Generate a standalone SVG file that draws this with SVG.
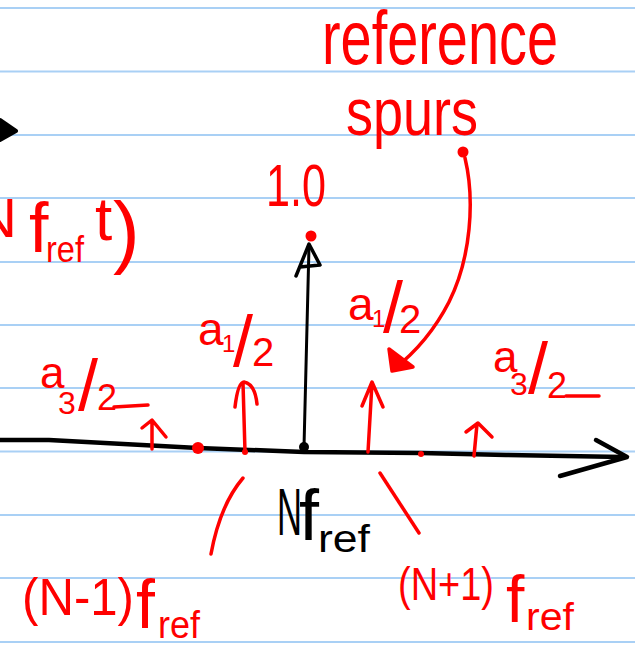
<svg xmlns="http://www.w3.org/2000/svg" width="635" height="654" viewBox="0 0 635 654">
<style>
.rule{stroke:#a9d0f5;stroke-width:2}
.r{fill:#f00;font-family:"Liberation Sans",Arial,sans-serif}
.k{fill:#000;font-family:"Liberation Sans",Arial,sans-serif}
.rs{fill:none;stroke:#f00;stroke-width:3.5;stroke-linecap:round;stroke-linejoin:round}
.ks{fill:none;stroke:#000;stroke-linecap:round;stroke-linejoin:round}
</style>
<rect width="635" height="654" fill="#fff"/>
<g id="rules">
<line class="rule" x1="0" y1="8" x2="635" y2="8"/>
<line class="rule" x1="0" y1="71.5" x2="635" y2="71.5"/>
<line class="rule" x1="0" y1="135" x2="635" y2="135"/>
<line class="rule" x1="0" y1="198" x2="635" y2="198"/>
<line class="rule" x1="0" y1="262" x2="635" y2="262"/>
<line class="rule" x1="0" y1="325" x2="635" y2="325"/>
<line class="rule" x1="0" y1="388" x2="635" y2="388"/>
<line class="rule" x1="0" y1="451.5" x2="635" y2="451.5"/>
<line class="rule" x1="0" y1="515" x2="635" y2="515"/>
<line class="rule" x1="0" y1="578" x2="635" y2="578"/>
<line class="rule" x1="0" y1="642" x2="635" y2="642"/>
</g>
<g id="axis">
<path class="ks" stroke-width="4.5" d="M0,440 L49,440 L198,448 L304,452 L421,453 L506,455 L623,457"/>
<path class="ks" stroke-width="4.5" d="M596,440 L627,457 L560,476"/>
<path class="ks" stroke-width="4" style="fill:#000" d="M0,120 L16,131 L0,140 Z"/>
</g>
<g id="carrier">
<path class="ks" stroke-width="3" d="M304,447 L309,246"/>
<path class="ks" stroke-width="3.5" d="M296,276 L309,244 L320,265 L300,267"/>
<circle cx="304" cy="447" r="5" fill="#000"/>
<circle cx="311" cy="236" r="5.5" fill="#f00"/>
</g>
<g id="spurs">
<path class="rs" d="M245,452 L243,383 M235,407 Q238,382 244,382 Q255,384 257,404"/>
<path class="rs" d="M368,452 L372,383 M362,406 L372,382 L383,407"/>
<path class="rs" d="M152,449 L152,421 M142,428 L152,420 L166,437"/>
<path class="rs" d="M474,456 L477,424 M466,432 L478,423 L492,437"/>
<circle cx="198" cy="448" r="6" fill="#f00"/>
<circle cx="245" cy="452" r="3" fill="#f00"/>
<circle cx="421" cy="454" r="3" fill="#f00"/>
</g>
<g id="connectors">
<path class="rs" d="M465,158 C475,200 471,258 449,302 C432,335 412,355 394,369"/>
<path class="rs" stroke-width="4.5" style="fill:#f00" d="M389,349 L392,371 L413,367 Z"/>
<circle cx="463" cy="152" r="5.5" fill="#f00"/>
<path class="rs" d="M243,478 Q220,505 211,554"/>
<path class="rs" d="M380,473 L419,533"/>
<path class="rs" d="M114,407 L148,405"/>
<path class="rs" d="M566,396 L599,396"/>
</g>
<g id="labels">
<text class="r" x="322" y="64" font-size="76" textLength="236" lengthAdjust="spacingAndGlyphs">reference</text>
<text class="r" x="346" y="135" font-size="66" textLength="132" lengthAdjust="spacingAndGlyphs">spurs</text>
<text class="r" x="266" y="206" font-size="60" textLength="60" lengthAdjust="spacingAndGlyphs">1.0</text>
<text class="r" font-size="46"><tspan x="198" y="345">a</tspan><tspan x="222" y="352" font-size="24">1</tspan><tspan x="233" y="366" font-size="72">/</tspan><tspan x="252" y="366" font-size="40">2</tspan></text>
<text class="r" font-size="46"><tspan x="348" y="320">a</tspan><tspan x="372" y="327" font-size="24">1</tspan><tspan x="383" y="332" font-size="72">/</tspan><tspan x="399" y="333" font-size="40">2</tspan></text>
<text class="r" font-size="44"><tspan x="40" y="388">a</tspan><tspan x="58" y="414" font-size="32">3</tspan><tspan x="78" y="410" font-size="72">/</tspan><tspan x="97" y="410" font-size="36">2</tspan></text>
<text class="r" font-size="44"><tspan x="493" y="372">a</tspan><tspan x="510" y="395" font-size="32">3</tspan><tspan x="528" y="393" font-size="72">/</tspan><tspan x="547" y="398" font-size="36">2</tspan></text>
<text class="k" font-size="66"><tspan x="277" y="535" textLength="25" lengthAdjust="spacingAndGlyphs">N</tspan><tspan x="299" y="540" font-size="72">f</tspan><tspan x="318" y="552" font-size="38" textLength="52" lengthAdjust="spacingAndGlyphs">ref</tspan></text>
<text class="r" font-size="52"><tspan x="22" y="615" textLength="112" lengthAdjust="spacingAndGlyphs">(N-1)</tspan><tspan x="136" y="628" font-size="68">f</tspan><tspan x="158" y="638" font-size="38" textLength="42" lengthAdjust="spacingAndGlyphs">ref</tspan></text>
<text class="r" font-size="46"><tspan x="398" y="600" textLength="96" lengthAdjust="spacingAndGlyphs">(N+1)</tspan><tspan x="506" y="622" font-size="66">f</tspan><tspan x="526" y="630" font-size="38" textLength="48" lengthAdjust="spacingAndGlyphs">ref</tspan></text>
<text class="r" font-size="56"><tspan x="-25" y="237" textLength="42" lengthAdjust="spacingAndGlyphs">N</tspan><tspan x="29" y="252" font-size="70">f</tspan><tspan x="46" y="262" font-size="36" textLength="38" lengthAdjust="spacingAndGlyphs">ref</tspan><tspan x="95" y="240" font-size="62">t</tspan><tspan x="113" y="258" font-size="80">)</tspan></text>
</g>
</svg>
